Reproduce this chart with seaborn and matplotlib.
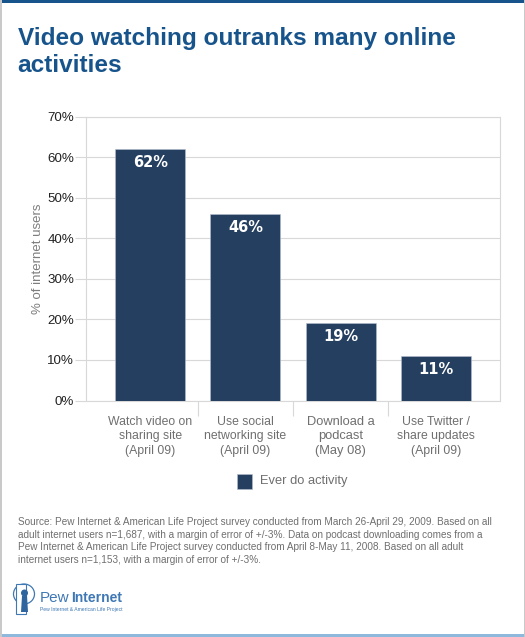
import matplotlib
matplotlib.use("Agg")
import matplotlib.pyplot as plt
from matplotlib.patches import Rectangle, Ellipse, Polygon
import seaborn as sns

categories = ["Watch video on\nsharing site\n(April 09)",
              "Use social\nnetworking site\n(April 09)",
              "Download a\npodcast\n(May 08)",
              "Use Twitter /\nshare updates\n(April 09)"]
values = [62, 46, 19, 11]
y_ticks = [0, 10, 20, 30, 40, 50, 60, 70]
series_name = "Ever do activity"
title = "Video watching outranks many online\nactivities"
y_label = "% of internet users"
source = ("Source: Pew Internet & American Life Project survey conducted from March 26-April 29, 2009. Based on all\n"
          "adult internet users n=1,687, with a margin of error of +/-3%. Data on podcast downloading comes from a\n"
          "Pew Internet & American Life Project survey conducted from April 8-May 11, 2008. Based on all adult\n"
          "internet users n=1,153, with a margin of error of +/-3%.")

W, H = 525, 637
NAVY = "#253f60"
BLUE = "#17548c"
LOGO = "#3f78b4"
GRID = "#d8d8d8"
TEXT = "#6f6f6f"

sns.set_theme(style="white")
plt.rcParams["font.family"] = ["Liberation Sans", "DejaVu Sans"]

fig = plt.figure(figsize=(W / 100, H / 100), dpi=100, facecolor="white")


def fx(px):
    return px / W


def fy(py):
    return 1 - py / H


# plot area in pixels: x 86-499.5, y 116.5-400.5
ax = fig.add_axes([fx(86.5), fy(400.5), (499.5 - 86.5) / W, (400.5 - 116.5) / H])
sns.barplot(x=categories, y=values, color=NAVY, saturation=1, width=0.734,
            edgecolor="#b4c0ce", linewidth=0.4, zorder=3, ax=ax)
ax.set_xlim(-0.67, 3.67)
ax.set_ylim(0, 70)
ax.set_yticks(y_ticks)
ax.set_yticklabels([f"{v}%" for v in y_ticks], fontsize=9.6, color="#222222")
ax.set_ylabel(y_label, fontsize=9.5, color="#7d7d7d", labelpad=2)
ax.grid(axis="y", color=GRID, linewidth=0.8, zorder=0)
ax.set_axisbelow(True)

# Labels horizontaal, scheidingsstreepjes tussen de categorieen
ax.set_xticks(range(len(categories)))
ax.set_xticklabels(categories, fontsize=8.8, color=TEXT, linespacing=1.3)
ax.tick_params(axis="x", length=0, pad=11)
ax.tick_params(axis="y", length=8, width=0.8, color=GRID, pad=1, left=True)
ax.set_xticks([0.5, 1.5, 2.5], minor=True)
ax.tick_params(axis="x", which="minor", length=11, width=0.8, color=GRID, bottom=True)
# Podcast label is iets groter in het origineel
ax.get_xticklabels()[2].set_fontsize(9.3)

for s in ["left", "bottom", "right", "top"]:
    ax.spines[s].set_color(GRID)
    ax.spines[s].set_linewidth(0.8)

# Percentages op de balken
for container in ax.containers:
    ax.bar_label(container, labels=[f"{v}%" for v in values], padding=-15,
                 fontsize=10.5, fontweight="bold", color="white",
                 family="DejaVu Sans", zorder=5)

# Legenda
fig.add_artist(Rectangle((fx(237), fy(489)), 15.5 / W, 15 / H, transform=fig.transFigure,
                         facecolor=NAVY, edgecolor="#b4c0ce", linewidth=0.4))
fig.text(fx(260), fy(481), series_name, fontsize=9.3, color=TEXT, va="center", ha="left")

# Titel en bron
fig.text(fx(17.5), fy(27), title, fontsize=17.6, fontweight="bold", color=BLUE,
         va="top", ha="left", linespacing=1.2)
fig.text(fx(17.5), fy(517), source, fontsize=7.2, color=TEXT, va="top", ha="left",
         linespacing=1.34)

# Rand van de pagina
fig.add_artist(Rectangle((0, fy(3)), 1, 3 / H, transform=fig.transFigure, facecolor=BLUE, edgecolor="none"))
fig.add_artist(Rectangle((0, 0), 1, 3 / H, transform=fig.transFigure, facecolor="#8fb9dc", edgecolor="none"))
fig.add_artist(Rectangle((0, 0), 1.5 / W, 1, transform=fig.transFigure, facecolor="#c9c9c9", edgecolor="none"))
fig.add_artist(Rectangle((1 - 1.5 / W, 0), 1.5 / W, 1, transform=fig.transFigure, facecolor="#c9c9c9", edgecolor="none"))

# Logo
fig.add_artist(Ellipse((fx(24), fy(594)), 21 / W, 20 / H, transform=fig.transFigure,
                       facecolor="white", edgecolor=LOGO, linewidth=0.9))
fig.add_artist(Rectangle((fx(15.5), fy(613.5)), 10 / W, 29.5 / H, transform=fig.transFigure,
                         facecolor="white", edgecolor=LOGO, linewidth=0.8))
fig.add_artist(Polygon([(fx(22), fy(596)), (fx(27), fy(596)), (fx(28), fy(612)), (fx(21), fy(612))],
                       transform=fig.transFigure, facecolor="#2f659f", edgecolor="none"))
fig.add_artist(Ellipse((fx(24.5), fy(593)), 7 / W, 7 / H, transform=fig.transFigure,
                       facecolor="#2f659f", edgecolor="none"))
fig.text(fx(39.5), fy(598.5), "Pew", fontsize=11, color=LOGO, va="center", ha="left")
fig.text(fx(71.5), fy(598.5), "Internet", fontsize=10, fontweight="bold", color=LOGO, va="center", ha="left")
fig.text(fx(39.5), fy(610), "Pew Internet & American Life Project", fontsize=3.6, color=LOGO,
         va="center", ha="left")

fig.savefig("out.png", dpi=100, facecolor="white")
